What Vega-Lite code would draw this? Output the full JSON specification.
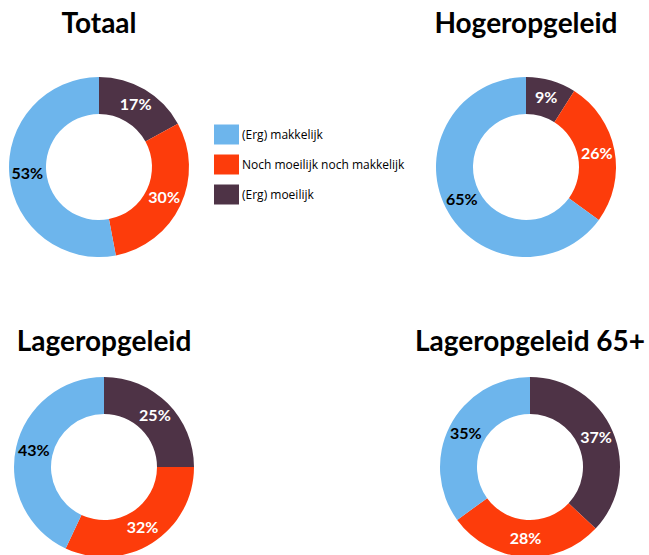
{
  "$schema": "https://vega.github.io/schema/vega-lite/v6.json",
  "background": "white",
  "padding": {"left": 4, "top": 11, "right": 0, "bottom": 0},
  "data": {
    "values": [
      {"groep": "Totaal", "categorie": "(Erg) moeilijk", "volgorde": 1, "aandeel": 0.17},
      {"groep": "Totaal", "categorie": "Noch moeilijk noch makkelijk", "volgorde": 2, "aandeel": 0.30},
      {"groep": "Totaal", "categorie": "(Erg) makkelijk", "volgorde": 3, "aandeel": 0.53},
      {"groep": "Hogeropgeleid", "categorie": "(Erg) moeilijk", "volgorde": 1, "aandeel": 0.09},
      {"groep": "Hogeropgeleid", "categorie": "Noch moeilijk noch makkelijk", "volgorde": 2, "aandeel": 0.26},
      {"groep": "Hogeropgeleid", "categorie": "(Erg) makkelijk", "volgorde": 3, "aandeel": 0.65},
      {"groep": "Lageropgeleid", "categorie": "(Erg) moeilijk", "volgorde": 1, "aandeel": 0.25},
      {"groep": "Lageropgeleid", "categorie": "Noch moeilijk noch makkelijk", "volgorde": 2, "aandeel": 0.32},
      {"groep": "Lageropgeleid", "categorie": "(Erg) makkelijk", "volgorde": 3, "aandeel": 0.43},
      {"groep": "Lageropgeleid 65+", "categorie": "(Erg) moeilijk", "volgorde": 1, "aandeel": 0.37},
      {"groep": "Lageropgeleid 65+", "categorie": "Noch moeilijk noch makkelijk", "volgorde": 2, "aandeel": 0.28},
      {"groep": "Lageropgeleid 65+", "categorie": "(Erg) makkelijk", "volgorde": 3, "aandeel": 0.35}
    ]
  },
  "spacing": 67,
  "vconcat": [
    {
      "spacing": 237,
      "hconcat": [
        {
          "title": {"text": "Totaal", "offset": 33},
          "width": 190, "height": 190,
          "transform": [{"filter": "datum.groep === 'Totaal'"}],
          "encoding": {
            "theta": {"field": "aandeel", "type": "quantitative", "stack": true, "scale": {"domain": [0, 1]}},
            "order": {"field": "volgorde", "type": "quantitative"}
          },
          "layer": [
            {"mark": {"type": "arc", "innerRadius": 53, "outerRadius": 90}, "encoding": {"color": {"field": "categorie", "type": "nominal", "scale": {"domain": ["(Erg) makkelijk", "Noch moeilijk noch makkelijk", "(Erg) moeilijk"], "range": ["#6db5ec", "#fd3c0b", "#4e3346"]}}}},
            {"mark": {"type": "text", "radius": 72}, "encoding": {"detail": {"field": "categorie"}, "text": {"field": "aandeel", "type": "quantitative", "format": ".0%"}, "color": {"condition": {"test": "datum.categorie === '(Erg) makkelijk'", "value": "black"}, "value": "white"}}}
          ]
        },
        {
          "title": {"text": "Hogeropgeleid", "offset": 33},
          "width": 190, "height": 190,
          "transform": [{"filter": "datum.groep === 'Hogeropgeleid'"}],
          "encoding": {
            "theta": {"field": "aandeel", "type": "quantitative", "stack": true, "scale": {"domain": [0, 1]}},
            "order": {"field": "volgorde", "type": "quantitative"}
          },
          "layer": [
            {"mark": {"type": "arc", "innerRadius": 53, "outerRadius": 90}, "encoding": {"color": {"field": "categorie", "type": "nominal", "scale": {"domain": ["(Erg) makkelijk", "Noch moeilijk noch makkelijk", "(Erg) moeilijk"], "range": ["#6db5ec", "#fd3c0b", "#4e3346"]}}}},
            {"mark": {"type": "text", "radius": 72}, "encoding": {"detail": {"field": "categorie"}, "text": {"field": "aandeel", "type": "quantitative", "format": ".0%"}, "color": {"condition": {"test": "datum.categorie === '(Erg) makkelijk'", "value": "black"}, "value": "white"}}}
          ]
        }
      ]
    },
    {
      "spacing": 210,
      "hconcat": [
        {
          "title": {"text": "Lageropgeleid", "offset": 15},
          "width": 200, "height": 190,
          "transform": [{"filter": "datum.groep === 'Lageropgeleid'"}],
          "encoding": {
            "theta": {"field": "aandeel", "type": "quantitative", "stack": true, "scale": {"domain": [0, 1]}},
            "order": {"field": "volgorde", "type": "quantitative"}
          },
          "layer": [
            {"mark": {"type": "arc", "innerRadius": 53, "outerRadius": 90}, "encoding": {"color": {"field": "categorie", "type": "nominal", "scale": {"domain": ["(Erg) makkelijk", "Noch moeilijk noch makkelijk", "(Erg) moeilijk"], "range": ["#6db5ec", "#fd3c0b", "#4e3346"]}}}},
            {"mark": {"type": "text", "radius": 72}, "encoding": {"detail": {"field": "categorie"}, "text": {"field": "aandeel", "type": "quantitative", "format": ".0%"}, "color": {"condition": {"test": "datum.categorie === '(Erg) makkelijk'", "value": "black"}, "value": "white"}}}
          ]
        },
        {
          "title": {"text": "Lageropgeleid 65+", "offset": 15},
          "width": 198, "height": 190,
          "transform": [{"filter": "datum.groep === 'Lageropgeleid 65+'"}],
          "encoding": {
            "theta": {"field": "aandeel", "type": "quantitative", "stack": true, "scale": {"domain": [0, 1]}},
            "order": {"field": "volgorde", "type": "quantitative"}
          },
          "layer": [
            {"mark": {"type": "arc", "innerRadius": 53, "outerRadius": 90}, "encoding": {"color": {"field": "categorie", "type": "nominal", "scale": {"domain": ["(Erg) makkelijk", "Noch moeilijk noch makkelijk", "(Erg) moeilijk"], "range": ["#6db5ec", "#fd3c0b", "#4e3346"]}}}},
            {"mark": {"type": "text", "radius": 72}, "encoding": {"detail": {"field": "categorie"}, "text": {"field": "aandeel", "type": "quantitative", "format": ".0%"}, "color": {"condition": {"test": "datum.categorie === '(Erg) makkelijk'", "value": "black"}, "value": "white"}}}
          ]
        }
      ]
    }
  ],
  "resolve": {"scale": {"color": "shared"}},
  "config": {
    "view": {"stroke": null},
    "title": {"font": "Lato", "fontSize": 28, "fontWeight": "bold", "color": "black", "anchor": "middle", "frame": "group"},
    "text": {"font": "Lato", "fontSize": 16, "fontWeight": "bold"},
    "legend": {
      "title": null,
      "orient": "none",
      "legendX": 210,
      "legendY": 50,
      "symbolType": "M-1,-0.8H1V0.8H-1Z",
      "symbolSize": 625,
      "symbolStrokeWidth": 0,
      "symbolOpacity": 1,
      "labelFont": "Open Sans",
      "labelFontSize": 12,
      "labelColor": "black",
      "labelOffset": 3,
      "labelLimit": 300,
      "rowPadding": 7
    }
  }
}
